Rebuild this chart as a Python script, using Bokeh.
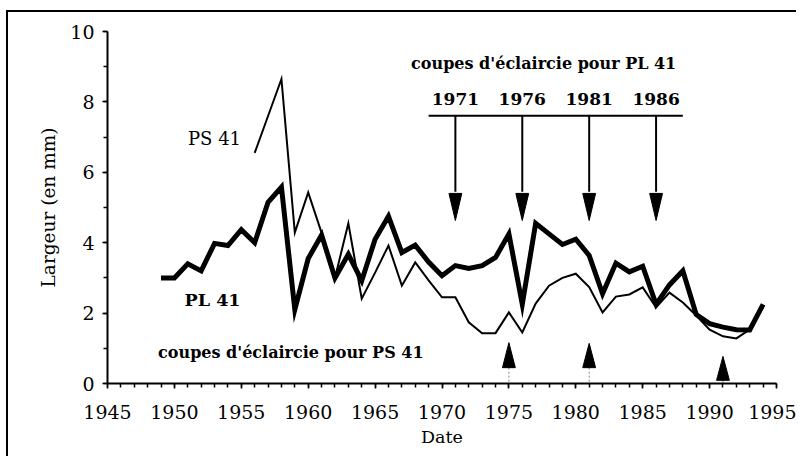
from bokeh.plotting import figure
from bokeh.models import Range1d, SingleIntervalTicker
from bokeh.core.properties import value
from bokeh.embed import file_html
from bokeh.resources import INLINE

# ---- data ----
pl_years = list(range(1949, 1995))
pl_values = [3.0, 3.0, 3.4, 3.2, 3.98, 3.92, 4.37, 4.0, 5.15, 5.58,
             2.1, 3.55, 4.22, 3.0, 3.67, 2.92, 4.1, 4.75, 3.72, 3.93,
             3.45, 3.06, 3.35, 3.27, 3.35, 3.58, 4.25, 2.25, 4.55, 4.25,
             3.95, 4.1, 3.64, 2.55, 3.42, 3.17, 3.33, 2.25, 2.8, 3.2,
             1.96, 1.7, 1.6, 1.53, 1.52, 2.25]
ps_years = list(range(1956, 1995))
ps_values = [6.55, 7.6, 8.65, 4.29, 5.43, 4.28, 3.0, 4.55, 2.41, 3.15,
             3.92, 2.78, 3.44, 2.93, 2.45, 2.45, 1.74, 1.43, 1.43, 2.02,
             1.45, 2.27, 2.78, 3.0, 3.12, 2.74, 2.02, 2.47, 2.53, 2.73,
             2.16, 2.58, 2.3, 1.93, 1.53, 1.34, 1.28, 1.53, 2.16]
pl_cut_years = [1971, 1976, 1981, 1986]
ps_cut_years = [1975, 1981, 1991]
pl_cut_labels = ["1971", "1976", "1981", "1986"]

SERIF = "DejaVu Serif"

p = figure(width=790, height=446, output_backend="svg", toolbar_location=None,
           x_range=Range1d(1945, 1995), y_range=Range1d(0, 10),
           min_border_left=99, min_border_right=22, min_border_top=19, min_border_bottom=75)
p.styles = {"margin-left": "6px", "margin-top": "10px",
            "border-left": "2px solid black", "border-top": "2px solid black"}
p.xgrid.visible = False
p.ygrid.visible = False
p.outline_line_color = None
p.background_fill_color = "white"

# axes styling
for ax in (p.xaxis[0], p.yaxis[0]):
    ax.axis_line_width = 2
    ax.axis_line_color = "black"
    ax.major_tick_line_width = 1.5
    ax.minor_tick_line_width = 1.5
    ax.major_tick_in = 0
    ax.minor_tick_in = 0
    ax.major_tick_out = 5
    ax.minor_tick_out = 4
    ax.major_label_text_font = SERIF
    ax.major_label_text_font_size = "19px"
    ax.major_label_text_color = "black"
    ax.axis_label_text_font = SERIF
    ax.axis_label_text_font_style = "normal"
    ax.axis_label_text_color = "black"

p.xaxis.axis_label_text_font_size = "17.5px"
p.yaxis.axis_label_text_font_size = "18.5px"
p.xaxis.ticker = SingleIntervalTicker(interval=5, num_minor_ticks=5)
p.yaxis.ticker = SingleIntervalTicker(interval=2, num_minor_ticks=2)
p.xaxis.axis_label = "Date"
p.yaxis.axis_label = "Largeur (en mm)"
p.xaxis.major_label_standoff = 16
p.yaxis.major_label_standoff = 8
p.xaxis.axis_label_standoff = 5
p.yaxis.axis_label_standoff = 8

# series
p.line(ps_years, ps_values, line_color="black", line_width=2, line_join="miter")
p.line(pl_years, pl_values, line_color="black", line_width=5, line_join="miter")

# labels of series
p.text(x=[1953.0], y=[6.96], text=["PS 41"], text_font=value(SERIF), text_font_size="18px",
       text_align="center", text_baseline="middle", text_color="black")
p.text(x=[1952.85], y=[2.36], text=["PL 41"], text_font=value(SERIF), text_font_size="17.5px",
       text_font_style="bold", text_align="center", text_baseline="middle", text_color="black")

# PL thinning cuts (top)
p.text(x=[1977.6], y=[9.09], text=["coupes d'éclaircie pour PL 41"], text_font=value(SERIF),
       text_font_size="16px", text_font_style="bold", text_align="center",
       text_baseline="middle", text_color="black")
p.text(x=pl_cut_years, y=[8.07] * len(pl_cut_years), text=pl_cut_labels, text_font=value(SERIF),
       text_font_size="17px", text_font_style="bold", text_align="center",
       text_baseline="middle", text_color="black")
bar_top = 7.61
p.segment(x0=[min(pl_cut_years) - 2], y0=[bar_top], x1=[max(pl_cut_years) + 2], y1=[bar_top],
          line_color="black", line_width=2)
head_base, head_tip, half_w = 5.4, 4.63, 0.48
p.segment(x0=pl_cut_years, y0=[bar_top] * 4, x1=pl_cut_years, y1=[head_base + 0.05] * 4,
          line_color="black", line_width=2)
p.patches(xs=[[yr - half_w, yr + half_w, yr] for yr in pl_cut_years],
          ys=[[head_base, head_base, head_tip] for _ in pl_cut_years],
          fill_color="black", line_color="black")

# PS thinning cuts (bottom)
p.text(x=[1958.7], y=[0.88], text=["coupes d'éclaircie pour PS 41"], text_font=value(SERIF),
       text_font_size="16px", text_font_style="bold", text_align="center",
       text_baseline="middle", text_color="black")
ps_tips = [1.16, 1.14, 0.77]
ps_bases = [0.45, 0.45, 0.09]
p.segment(x0=ps_cut_years, y0=ps_bases, x1=ps_cut_years, y1=[0] * 3,
          line_color="#888888", line_width=1, line_dash="2 2")
p.patches(xs=[[yr - half_w, yr + half_w, yr] for yr in ps_cut_years],
          ys=[[b, b, t] for b, t in zip(ps_bases, ps_tips)],
          fill_color="black", line_color="black")

open("out.html", "w").write(file_html(p, INLINE))
